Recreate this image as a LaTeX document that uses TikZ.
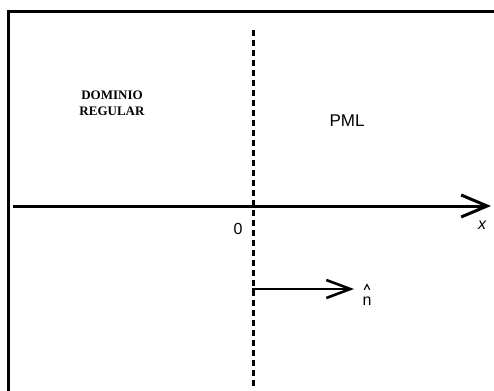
\documentclass[tikz,border=0pt]{standalone}
\usepackage{fontspec}
\setmainfont{Liberation Serif}
\setsansfont{Liberation Sans}
\usetikzlibrary{arrows.meta}
\tikzset{
  frameline/.style={line width=3pt, line cap=rect},
  axisline/.style={line width=3pt, -{Straight Barb[length=26pt,width=22pt,line width=3pt]}},
  normalarrow/.style={line width=2.2pt, -{Straight Barb[length=24pt,width=18pt,line width=2.6pt]}},
  boundary/.style={line width=3pt, dash pattern=on 6pt off 4pt},
  hatmark/.style={line width=1.1pt, line cap=round, line join=miter},
  sanslabel/.style={font=\sffamily\fontsize{16}{18}\selectfont, inner sep=0pt},
  seriflabel/.style={font=\rmfamily\bfseries\fontsize{13}{18}\selectfont, inner sep=0pt, align=center},
}
\begin{document}
\begin{tikzpicture}[x=1pt,y=-1pt]
\useasboundingbox (0,0) rectangle (494,390);
\fill[white] (0,0) rectangle (494,390);
% frame (top and left edges only)
\coordinate (ftr) at (494,11.5);
\coordinate (ftl) at (8,11.5);
\coordinate (fbl) at (8,390);
\draw[frameline] (ftr) -- (ftl) -- (fbl);
% x axis
\coordinate (axl) at (13,206);
\coordinate (axr) at (491,206);
\draw[axisline] (axl) -- (axr);
% boundary (dashed)
\coordinate (bt) at (253,30);
\coordinate (bb) at (253,386);
\draw[boundary] (bt) -- (bb);
% normal vector
\coordinate (ns) at (252,289);
\coordinate (ne) at (354,289);
\draw[normalarrow] (ns) -- (ne);
% labels
\node[seriflabel] (dom) at (112,103) {DOMINIO\\[-2pt]REGULAR};
\node[sanslabel, font=\sffamily\fontsize{17}{18}\selectfont] (pml) at (347,120.5) {PML};
\node[sanslabel] (zero) at (238,228.5) {0};
\node[sanslabel] (xlab) at (482,225) {\itshape x};
\node[sanslabel] (nhat) at (367,301) {n};
\draw[hatmark] ([shift={(-2.6,-7)}]nhat.north) -- ([shift={(0,-12)}]nhat.north) -- ([shift={(2.6,-7)}]nhat.north);
\end{tikzpicture}
\end{document}
